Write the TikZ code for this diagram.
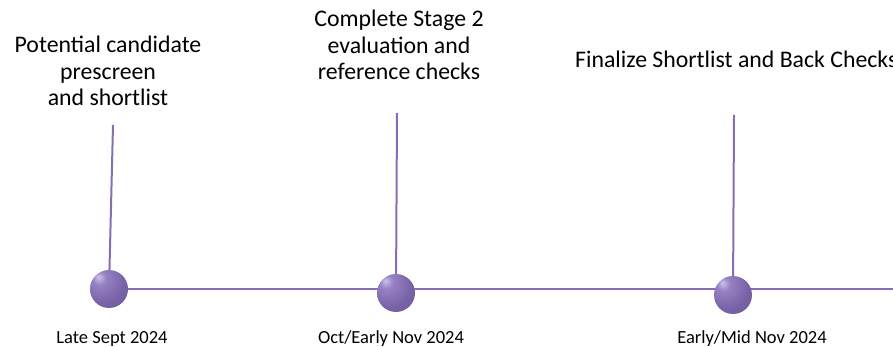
\documentclass[tikz,border=0pt]{standalone}
\usepackage{fontspec}
\setmainfont{Carlito}
\definecolor{linepurple}{RGB}{134,110,180}
\definecolor{ballhi}{RGB}{205,192,235}
\definecolor{ballmid}{RGB}{150,130,195}
\definecolor{ballmain}{RGB}{118,98,165}
\definecolor{balldark}{RGB}{72,56,110}
\pgfdeclareradialshading{purpleball}{\pgfpoint{-14bp}{16bp}}{%
  color(0bp)=(ballhi); color(9bp)=(ballmid); color(30bp)=(ballmain);
  color(52bp)=(ballmain!80!balldark); color(64bp)=(balldark); color(100bp)=(balldark)}
\begin{document}
\begin{tikzpicture}[x=1pt,y=-1pt,
  conn/.style={draw=linepurple, line width=2pt},
  ballnode/.style={circle, minimum size=38pt, inner sep=0pt, shading=purpleball},
  stagetext/.style={font=\fontsize{23.8}{26.8}\selectfont, align=center, inner sep=0pt, anchor=base},
  datetext/.style={font=\fontsize{18.5}{22}\selectfont, inner sep=0pt, anchor=base}]
\useasboundingbox (0,0) rectangle (893,347);
\clip (0,0) rectangle (893,347);
% anchors
\coordinate (t1) at (113,125);
\coordinate (t2) at (397,113);
\coordinate (t3) at (734,115);
\coordinate (lineend) at (900,289);
\coordinate (b1) at (109,289);
\coordinate (b2) at (396,293);
\coordinate (b3) at (733,295);
% connectors
\draw[conn] (b1) -- (lineend);
\draw[conn] (t1) -- (b1);
\draw[conn] (t2) -- (b2);
\draw[conn] (t3) -- (b3);
% balls
\node[ballnode] (ball1) at (b1) {};
\node[ballnode] (ball2) at (b2) {};
\node[ballnode] (ball3) at (b3) {};
% texts (base anchor = baseline of last line)
\node[stagetext] (s1) at (108,106) {Potential candidate\\prescreen\\and shortlist};
\node[stagetext] (s2) at (399,80) {Complete Stage 2\\evaluation and\\reference checks};
\node[stagetext, anchor=base west] (s3) at (575,68) {Finalize Shortlist and Back Checks};
\node[datetext] (d1) at (112,343) {Late Sept 2024};
\node[datetext] (d2) at (391,343) {Oct/Early Nov 2024};
\node[datetext] (d3) at (752,343) {Early/Mid Nov 2024};
\end{tikzpicture}
\end{document}
